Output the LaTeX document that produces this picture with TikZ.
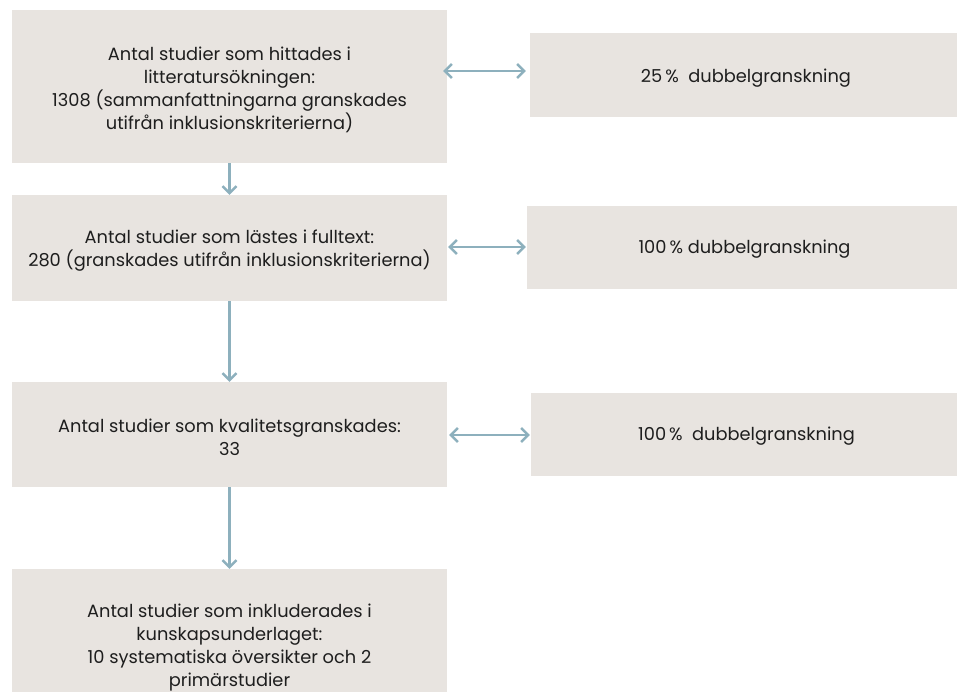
\documentclass[tikz,border=0pt]{standalone}
\usepackage{fontspec}
\setmainfont{Poppins}
\usetikzlibrary{arrows.meta}
\definecolor{boxfill}{HTML}{E8E4E0}
\definecolor{arrowc}{HTML}{8DB0BD}
\definecolor{txt}{HTML}{1E1E1E}
\tikzset{
  flowbox/.style={rectangle, fill=boxfill, draw=none, inner sep=0pt},
  boxtext/.style={inner sep=0pt, align=center, text=txt,
    font=\fontsize{17.8}{23}\selectfont},
  link/.style={draw=arrowc, line width=2.4pt,
    -{Straight Barb[length=7pt, width=14pt, line width=2.4pt]}},
  dlink/.style={draw=arrowc, line width=2.4pt,
    {Straight Barb[length=7pt, width=14pt, line width=2.4pt]}-{Straight Barb[length=7pt, width=14pt, line width=2.4pt]}}
}
\begin{document}
\begin{tikzpicture}[x=1pt, y=-1pt]
\useasboundingbox (0,0) rectangle (957,691);
\clip (0,0) rectangle (957,691);
% left column
\node[flowbox, minimum width=435pt, minimum height=153pt] (b1) at (229.5,86.5) {};
\node[boxtext] (b1t) at ([yshift=-3pt]b1.center)
  {Antal studier som hittades i\\litteratursökningen:\\1308 (sammanfattningarna granskades\\utifrån inklusionskriterierna)};
\node[flowbox, minimum width=435pt, minimum height=106pt] (b2) at (229.5,248) {};
\node[boxtext] (b2t) at ([yshift=-3pt]b2.center)
  {Antal studier som lästes i fulltext:\\280 (granskades utifrån inklusionskriterierna)};
\node[flowbox, minimum width=435pt, minimum height=105pt] (b3) at (229.5,434.5) {};
\node[boxtext] (b3t) at ([yshift=-2.5pt]b3.center)
  {Antal studier som kvalitetsgranskades:\\33};
\node[flowbox, minimum width=435pt, minimum height=154pt] (b4) at (229.5,646) {};
\node[boxtext] (b4t) at ([yshift=-1.5pt]b4.center)
  {Antal studier som inkluderades i\\kunskapsunderlaget:\\10 systematiska översikter och 2\\primärstudier};
% right column
\node[flowbox, minimum width=432pt, minimum height=84pt] (r1) at (746,75) {};
\node[boxtext] (r1t) at ([yshift=-3pt]r1.center) {25\,\%\ \ dubbelgranskning};
\node[flowbox, minimum width=435pt, minimum height=83pt] (r2) at (744.5,247.5) {};
\node[boxtext] (r2t) at ([yshift=-2pt]r2.center) {100\,\% dubbelgranskning};
\node[flowbox, minimum width=431pt, minimum height=83pt] (r3) at (746.5,434.5) {};
\node[boxtext] (r3t) at ([yshift=-2pt]r3.center) {100\,\%\ \ dubbelgranskning};
% vertical connectors
\draw[link] (b1.south) -- (b2.north);
\draw[link] (b2.south) -- (b3.north);
\draw[link] (b3.south) -- (b4.north);
% horizontal double connectors
\coordinate (a1s) at ([xshift=-4pt]b1.east |- 0,71);
\coordinate (a1e) at ([xshift=-4pt]r1.west |- 0,71);
\draw[dlink] (a1s) -- (a1e);
\coordinate (a2s) at ([xshift=1pt]b2.east |- 0,247);
\coordinate (a2e) at ([xshift=-1pt]r2.west |- 0,247);
\draw[dlink] (a2s) -- (a2e);
\coordinate (a3s) at ([xshift=2pt]b3.east |- 0,435);
\coordinate (a3e) at ([xshift=-1pt]r3.west |- 0,435);
\draw[dlink] (a3s) -- (a3e);
\end{tikzpicture}
\end{document}
